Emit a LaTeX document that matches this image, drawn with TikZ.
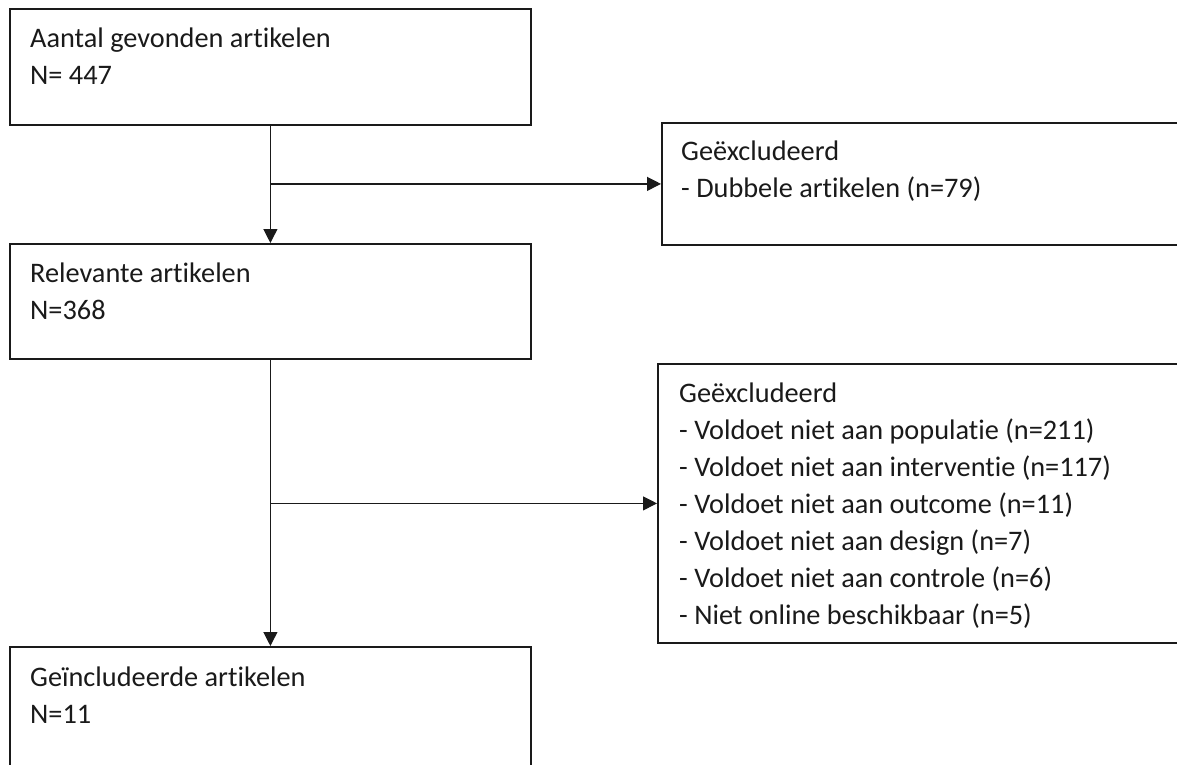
\documentclass[tikz,border=0pt]{standalone}
\usepackage{fontspec}
\setmainfont{Carlito}[Ligatures=NoCommon]
\usetikzlibrary{arrows.meta}
\definecolor{ink}{HTML}{1A1A1A}
\tikzset{
  box/.style={draw=ink, line width=1.8pt, anchor=north west, inner sep=0pt},
  txt/.style={anchor=north west, inner sep=0pt, align=left, text=ink,
    font=\fontsize{28.3}{37}\selectfont},
  conn/.style={draw=ink, line width=1.2pt},
  arr/.style={conn, -{Triangle[length=14pt,width=14pt]}},
}
\begin{document}
\begin{tikzpicture}[x=1pt,y=-1pt]
\useasboundingbox (0,0) rectangle (1177,765);
\clip (0,0) rectangle (1177,765);
\fill[white] (0,0) rectangle (1177,765);
% boxes
\node[box, minimum width=521pt, minimum height=116pt] (b1) at (9,8) {};
\node[box, minimum width=540pt, minimum height=122pt] (b2) at (661,122) {};
\node[box, minimum width=521pt, minimum height=115pt] (b3) at (9,243) {};
\node[box, minimum width=540pt, minimum height=279pt] (b4) at (657,363) {};
\node[box, minimum width=521pt, minimum height=160pt] (b5) at (9,646) {};
% texts
\node[txt] (t1) at (30,21.1) {\strut Aantal gevonden artikelen\\N= 447};
\node[txt] (t2) at (681,134.1) {\strut Geëxcludeerd\\- Dubbele artikelen (n=79)};
\node[txt] (t3) at (30,256.1) {\strut Relevante artikelen\\N=368};
\node[txt] (t4) at (679,376.1) {\strut Geëxcludeerd\\- Voldoet niet aan populatie (n=211)\\- Voldoet niet aan interventie (n=117)\\- Voldoet niet aan outcome (n=11)\\- Voldoet niet aan design (n=7)\\- Voldoet niet aan controle (n=6)\\- Niet online beschikbaar (n=5)};
\node[txt] (t5) at (30,660.1) {\strut Geïncludeerde artikelen\\N=11};
% connectors
\coordinate (j1) at (b1.south |- b2.west);
\coordinate (j2) at (b3.south |- b4.west);
\draw[arr] (b1.south) -- (b3.north);
\draw[arr] (j1) -- (b2.west);
\draw[arr] (b3.south) -- (b5.north);
\draw[arr] (j2) -- (b4.west);
\end{tikzpicture}
\end{document}
